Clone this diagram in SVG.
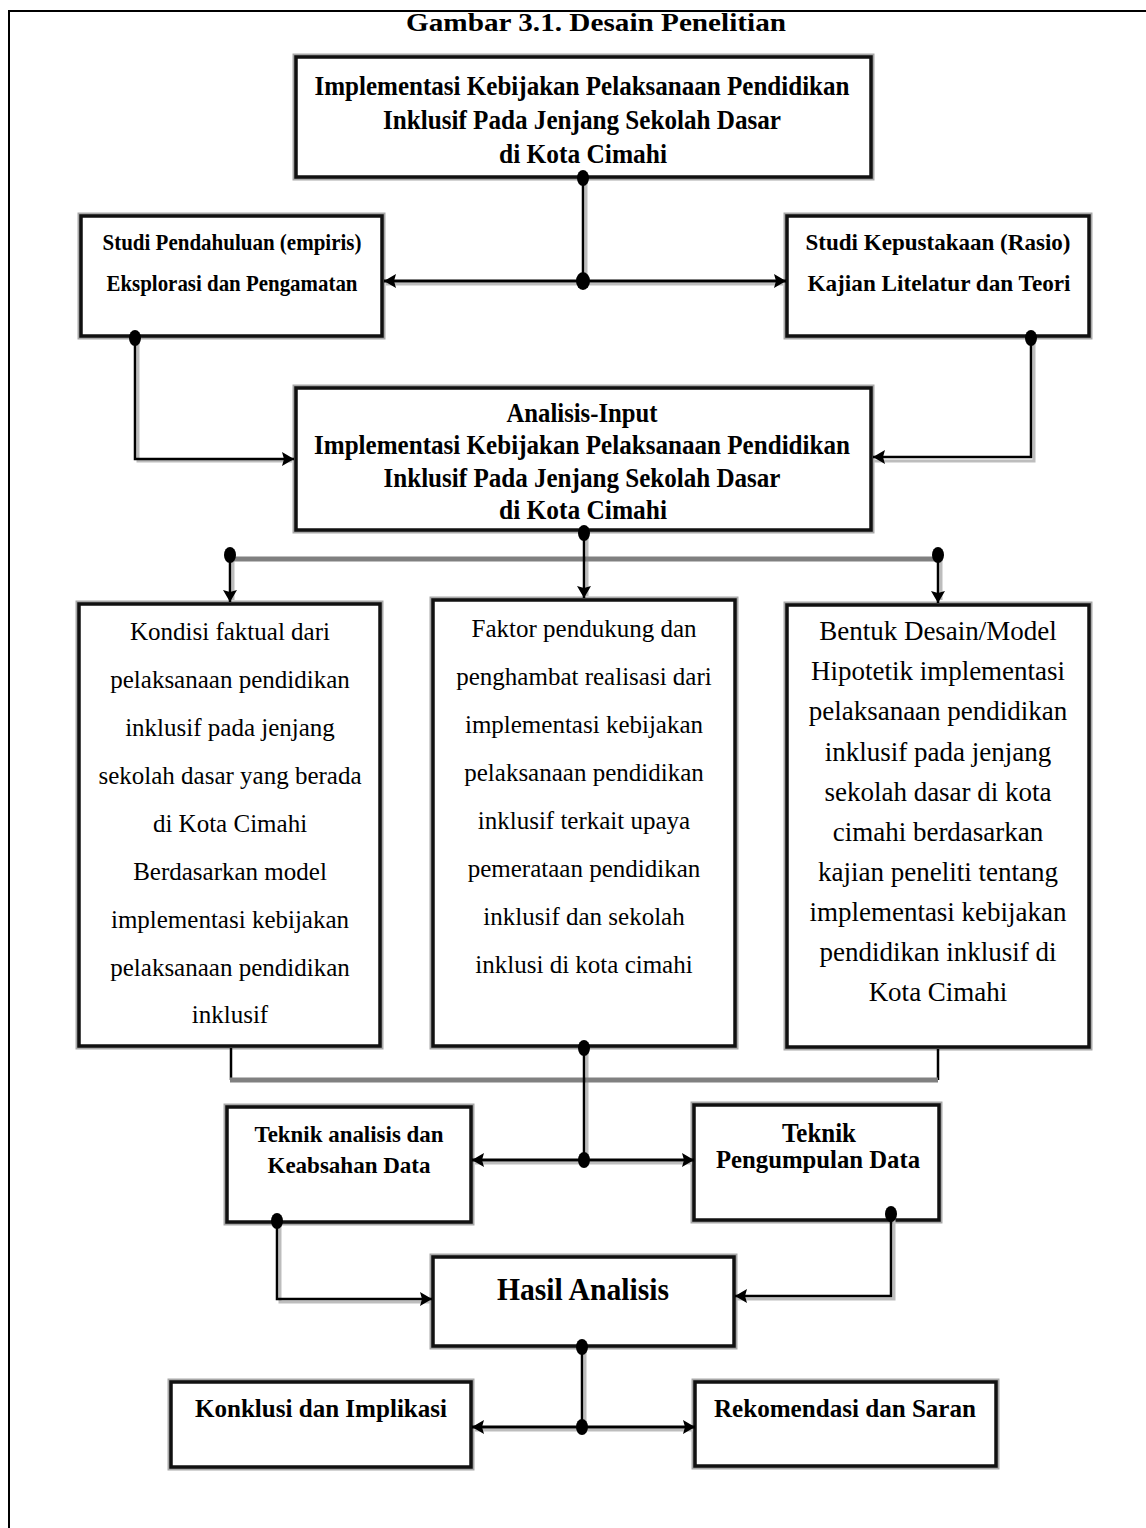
<svg xmlns="http://www.w3.org/2000/svg" width="1146" height="1528" viewBox="0 0 1146 1528">
<style>
.bs{fill:none;stroke:#a8a8a8;stroke-width:7}
.bx{fill:#fff;stroke:#111;stroke-width:3.5}
.t{font-family:"Liberation Serif","Times New Roman",serif;fill:#000;text-anchor:middle}
.b{font-weight:bold}
.r{font-size:25px}
.r7{font-size:27px}
.ln{fill:none;stroke:#000;stroke-width:3}
.th{fill:none;stroke:#000;stroke-width:2.5}
.sh{fill:none;stroke:#bdbdbd;stroke-width:3}
.gr{fill:none;stroke:#808080;stroke-width:5}
.dot{fill:#000}
</style>
<defs>
<marker id="ah" viewBox="0 0 12 14" refX="12" refY="7" markerWidth="12" markerHeight="14" markerUnits="userSpaceOnUse" orient="auto-start-reverse">
<path d="M0,0 L12,7 L0,14 L2,7 Z" fill="#000"/>
</marker>
</defs>
<rect width="1146" height="1528" fill="#fff"/>
<path d="M9,1528 V11 H1146" fill="none" stroke="#000" stroke-width="2"/>
<text id="title" class="t b" x="596" y="31" font-size="26" textLength="380" lengthAdjust="spacingAndGlyphs">Gambar 3.1. Desain Penelitian</text>

<g id="n1">
<rect class="bs" x="296" y="57" width="575" height="120"/>
<rect class="bx" x="296" y="57" width="575" height="120"/>
<text class="t b" font-size="27" x="582" y="95" textLength="535" lengthAdjust="spacingAndGlyphs">Implementasi Kebijakan Pelaksanaan Pendidikan</text>
<text class="t b" font-size="27" x="582" y="129" textLength="398" lengthAdjust="spacingAndGlyphs">Inklusif Pada Jenjang Sekolah Dasar</text>
<text class="t b" font-size="27" x="583" y="163" textLength="168" lengthAdjust="spacingAndGlyphs">di Kota Cimahi</text>
</g>
<g id="n2">
<rect class="bs" x="81" y="216" width="301" height="120"/>
<rect class="bx" x="81" y="216" width="301" height="120"/>
<text class="t b" font-size="23" x="232" y="250" textLength="259" lengthAdjust="spacingAndGlyphs">Studi Pendahuluan (empiris)</text>
<text class="t b" font-size="23" x="232" y="291" textLength="251" lengthAdjust="spacingAndGlyphs">Eksplorasi dan Pengamatan</text>
</g>
<g id="n3">
<rect class="bs" x="787" y="216" width="302" height="120"/>
<rect class="bx" x="787" y="216" width="302" height="120"/>
<text class="t b" font-size="23" x="938" y="250" textLength="265" lengthAdjust="spacingAndGlyphs">Studi Kepustakaan (Rasio)</text>
<text class="t b" font-size="23" x="939" y="291" textLength="263" lengthAdjust="spacingAndGlyphs">Kajian Litelatur dan Teori</text>
</g>
<g id="n4">
<rect class="bs" x="296" y="388" width="575" height="142"/>
<rect class="bx" x="296" y="388" width="575" height="142"/>
<text class="t b" font-size="27" x="582" y="422" textLength="151" lengthAdjust="spacingAndGlyphs">Analisis-Input</text>
<text class="t b" font-size="27" x="582" y="454" textLength="536" lengthAdjust="spacingAndGlyphs">Implementasi Kebijakan Pelaksanaan Pendidikan</text>
<text class="t b" font-size="27" x="582" y="487" textLength="397" lengthAdjust="spacingAndGlyphs">Inklusif Pada Jenjang Sekolah Dasar</text>
<text class="t b" font-size="27" x="583" y="519" textLength="168" lengthAdjust="spacingAndGlyphs">di Kota Cimahi</text>
</g>
<g id="n5">
<rect class="bs" x="79" y="604" width="301" height="442"/>
<rect class="bx" x="79" y="604" width="301" height="442"/>
<text class="t r" x="230" y="640">Kondisi faktual dari</text>
<text class="t r" x="230" y="688">pelaksanaan pendidikan</text>
<text class="t r" x="230" y="736">inklusif pada jenjang</text>
<text class="t r" x="230" y="784">sekolah dasar yang berada</text>
<text class="t r" x="230" y="832">di Kota Cimahi</text>
<text class="t r" x="230" y="880">Berdasarkan model</text>
<text class="t r" x="230" y="928">implementasi kebijakan</text>
<text class="t r" x="230" y="976">pelaksanaan pendidikan</text>
<text class="t r" x="230" y="1023">inklusif</text>
</g>
<g id="n6">
<rect class="bs" x="433" y="600" width="302" height="446"/>
<rect class="bx" x="433" y="600" width="302" height="446"/>
<text class="t r" x="584" y="637">Faktor pendukung dan</text>
<text class="t r" x="584" y="685">penghambat realisasi dari</text>
<text class="t r" x="584" y="733">implementasi kebijakan</text>
<text class="t r" x="584" y="781">pelaksanaan pendidikan</text>
<text class="t r" x="584" y="829">inklusif terkait upaya</text>
<text class="t r" x="584" y="877">pemerataan pendidikan</text>
<text class="t r" x="584" y="925">inklusif dan sekolah</text>
<text class="t r" x="584" y="973">inklusi di kota cimahi</text>
</g>
<g id="n7">
<rect class="bs" x="787" y="605" width="302" height="442"/>
<rect class="bx" x="787" y="605" width="302" height="442"/>
<text class="t r7" x="938" y="640">Bentuk Desain/Model</text>
<text class="t r7" x="938" y="680">Hipotetik implementasi</text>
<text class="t r7" x="938" y="720">pelaksanaan pendidikan</text>
<text class="t r7" x="938" y="761">inklusif pada jenjang</text>
<text class="t r7" x="938" y="801">sekolah dasar di kota</text>
<text class="t r7" x="938" y="841">cimahi berdasarkan</text>
<text class="t r7" x="938" y="881">kajian peneliti tentang</text>
<text class="t r7" x="938" y="921">implementasi kebijakan</text>
<text class="t r7" x="938" y="961">pendidikan inklusif di</text>
<text class="t r7" x="938" y="1001">Kota Cimahi</text>
</g>
<g id="n8">
<rect class="bs" x="227" y="1107" width="244" height="115"/>
<rect class="bx" x="227" y="1107" width="244" height="115"/>
<text class="t b" font-size="23" x="349" y="1142" textLength="189" lengthAdjust="spacingAndGlyphs">Teknik analisis dan</text>
<text class="t b" font-size="23" x="349" y="1173" textLength="163" lengthAdjust="spacingAndGlyphs">Keabsahan Data</text>
</g>
<g id="n9">
<rect class="bs" x="694" y="1105" width="245" height="115"/>
<rect class="bx" x="694" y="1105" width="245" height="115"/>
<text class="t b" font-size="27" x="819" y="1142" textLength="74" lengthAdjust="spacingAndGlyphs">Teknik</text>
<text class="t b" font-size="26" x="818" y="1168" textLength="204" lengthAdjust="spacingAndGlyphs">Pengumpulan Data</text>
</g>
<g id="n10">
<rect class="bs" x="433" y="1257" width="301" height="89"/>
<rect class="bx" x="433" y="1257" width="301" height="89"/>
<text class="t b" font-size="31" x="583" y="1300" textLength="172" lengthAdjust="spacingAndGlyphs">Hasil Analisis</text>
</g>
<g id="n11">
<rect class="bs" x="171" y="1382" width="300" height="85"/>
<rect class="bx" x="171" y="1382" width="300" height="85"/>
<text class="t b" font-size="26" x="321" y="1417" textLength="252" lengthAdjust="spacingAndGlyphs">Konklusi dan Implikasi</text>
</g>
<g id="n12">
<rect class="bs" x="695" y="1382" width="301" height="84"/>
<rect class="bx" x="695" y="1382" width="301" height="84"/>
<text class="t b" font-size="26" x="845" y="1417" textLength="262" lengthAdjust="spacingAndGlyphs">Rekomendasi dan Saran</text>
</g>

<g id="connectors">
<path class="sh" d="M586,180 V281 M386,284 H783 M138,338 V461 H292 M1034,338 V461 H874 M587,532 V596 M233,556 V600 M941,556 V600 M587,1048 V1160 M475,1163 H692 M280,1221 V1302 H430 M894,1214 V1299 H737 M585,1347 V1427 M475,1430 H693"/>
<path class="th" d="M583,178 V281"/>
<path class="ln" d="M384,281 H786" marker-start="url(#ah)" marker-end="url(#ah)"/>
<ellipse class="dot" cx="583" cy="178" rx="6" ry="8"/>
<ellipse class="dot" cx="583" cy="281" rx="7" ry="9"/>
<path class="th" d="M135,338 V459 H294" marker-end="url(#ah)"/>
<path class="th" d="M1031,338 V457 H873" marker-end="url(#ah)"/>
<ellipse class="dot" cx="135" cy="338" rx="6" ry="8"/>
<ellipse class="dot" cx="1031" cy="338" rx="6" ry="8"/>
<path class="gr" d="M230,559 H938"/>
<path class="th" d="M584,532 V598" marker-end="url(#ah)"/>
<path class="th" d="M230,556 V602" marker-end="url(#ah)"/>
<path class="th" d="M938,556 V603" marker-end="url(#ah)"/>
<ellipse class="dot" cx="584" cy="533" rx="6" ry="8"/>
<ellipse class="dot" cx="230" cy="555" rx="6" ry="8"/>
<ellipse class="dot" cx="938" cy="555" rx="6" ry="8"/>
<path class="th" d="M231,1048 V1080 M938,1049 V1080" stroke-width="2"/>
<path class="gr" d="M230,1080 H938"/>
<path class="th" d="M584,1048 V1160"/>
<path class="ln" d="M472,1160 H694" marker-start="url(#ah)" marker-end="url(#ah)"/>
<ellipse class="dot" cx="584" cy="1048" rx="6" ry="8"/>
<ellipse class="dot" cx="584" cy="1160" rx="6" ry="8"/>
<path class="th" d="M277,1221 V1299 H432" marker-end="url(#ah)"/>
<path class="th" d="M891,1214 V1296 H735" marker-end="url(#ah)"/>
<ellipse class="dot" cx="277" cy="1221" rx="6" ry="8"/>
<ellipse class="dot" cx="891" cy="1214" rx="6" ry="8"/>
<path class="th" d="M582,1347 V1427"/>
<path class="ln" d="M472,1427 H695" marker-start="url(#ah)" marker-end="url(#ah)"/>
<ellipse class="dot" cx="582" cy="1347" rx="6" ry="8"/>
<ellipse class="dot" cx="582" cy="1427" rx="6" ry="8"/>
</g>
</svg>
